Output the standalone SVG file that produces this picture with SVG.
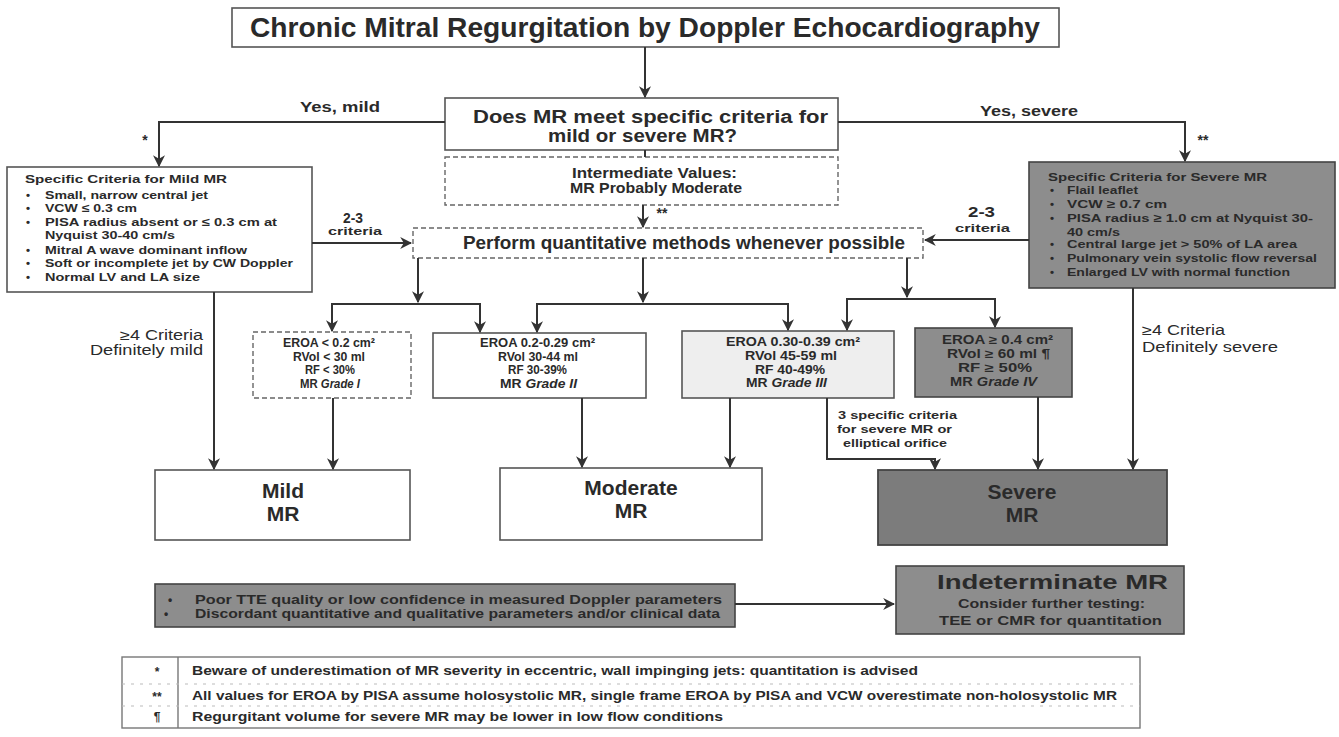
<svg xmlns="http://www.w3.org/2000/svg" width="1339" height="737" viewBox="0 0 1339 737">
  <style>
    text { font-family: "Liberation Sans", Arial, sans-serif; font-weight: bold; fill: #2a2a2a; }
    .box { fill: #ffffff; stroke: #555; stroke-width: 1.6; }
    .dash { fill: #ffffff; stroke: #666; stroke-width: 1.4; stroke-dasharray: 5 3; }
    .grey { fill: #8d8d8d; stroke: #444; stroke-width: 1.6; }
    .dark { fill: #7c7c7c; stroke: #444; stroke-width: 1.8; }
    .conn { fill: none; stroke: #333; stroke-width: 2; }
    .title { font-size: 28px; }
    .q { font-size: 18px; }
    .lbl { font-size: 14px; }
    .reg { font-size: 14px; font-weight: normal; }
    .crit { font-size: 11.5px; }
    .grade { font-size: 12px; }
    .big { font-size: 21px; }
    .note { font-size: 12px; }
    .it { font-style: italic; }
  </style>
  <defs>
    <marker id="arr" viewBox="0 0 10 10" refX="9" refY="5" markerWidth="6" markerHeight="6" orient="auto" markerUnits="strokeWidth">
      <path d="M0,0 L10,5 L0,10 L3,5 Z" fill="#333"/>
    </marker>
  </defs>

  <!-- title -->
  <g id="title">
    <rect class="box" x="232" y="8" width="827" height="39"/>
    <text class="title" x="250" y="37" textLength="790" lengthAdjust="spacingAndGlyphs">Chronic Mitral Regurgitation by Doppler Echocardiography</text>
  </g>

  <!-- question -->
  <g id="question">
    <rect class="box" x="445" y="98" width="393" height="52"/>
    <text class="q" x="473" y="123" textLength="355" lengthAdjust="spacingAndGlyphs">Does MR  meet specific criteria for</text>
    <text class="q" x="548" y="142" textLength="189" lengthAdjust="spacingAndGlyphs">mild or severe MR?</text>
  </g>

  <!-- intermediate -->
  <g id="intermediate">
    <rect class="dash" x="445" y="157" width="393" height="48"/>
    <text class="lbl" x="572" y="178" textLength="165" lengthAdjust="spacingAndGlyphs">Intermediate Values:</text>
    <text class="lbl" x="570" y="193" textLength="172" lengthAdjust="spacingAndGlyphs">MR Probably Moderate</text>
  </g>

  <!-- perform quantitative -->
  <g id="perform">
    <rect class="dash" x="413" y="228" width="510" height="30"/>
    <text class="q" x="463" y="249" textLength="442" lengthAdjust="spacingAndGlyphs">Perform quantitative methods  whenever possible</text>
  </g>

  <!-- mild criteria -->
  <g id="mild-criteria">
    <rect class="box" x="7" y="167" width="305" height="125"/>
    <text class="crit" x="25" y="183" textLength="202" lengthAdjust="spacingAndGlyphs">Specific Criteria for Mild MR</text>
    <text class="crit" x="26" y="199">•</text><text class="crit" x="45" y="199" textLength="163" lengthAdjust="spacingAndGlyphs">Small, narrow central jet</text>
    <text class="crit" x="26" y="212">•</text><text class="crit" x="45" y="212" textLength="92" lengthAdjust="spacingAndGlyphs">VCW ≤ 0.3 cm</text>
    <text class="crit" x="26" y="226">•</text><text class="crit" x="45" y="226" textLength="232" lengthAdjust="spacingAndGlyphs">PISA radius absent or  ≤ 0.3 cm at</text>
    <text class="crit" x="45" y="239" textLength="130" lengthAdjust="spacingAndGlyphs">Nyquist 30-40 cm/s</text>
    <text class="crit" x="26" y="254">•</text><text class="crit" x="45" y="254" textLength="202" lengthAdjust="spacingAndGlyphs">Mitral A wave dominant inflow</text>
    <text class="crit" x="26" y="267">•</text><text class="crit" x="45" y="267" textLength="248" lengthAdjust="spacingAndGlyphs">Soft or incomplete jet by CW Doppler</text>
    <text class="crit" x="26" y="281">•</text><text class="crit" x="45" y="281" textLength="155" lengthAdjust="spacingAndGlyphs">Normal LV and LA size</text>
  </g>

  <!-- severe criteria -->
  <g id="severe-criteria">
    <rect class="grey" x="1029" y="162" width="306" height="126"/>
    <text class="crit" x="1048" y="181" textLength="219" lengthAdjust="spacingAndGlyphs">Specific Criteria for Severe MR</text>
    <text class="crit" x="1050" y="194">•</text><text class="crit" x="1067" y="194" textLength="71" lengthAdjust="spacingAndGlyphs">Flail leaflet</text>
    <text class="crit" x="1050" y="208">•</text><text class="crit" x="1067" y="208" textLength="100" lengthAdjust="spacingAndGlyphs">VCW  ≥ 0.7 cm</text>
    <text class="crit" x="1050" y="222">•</text><text class="crit" x="1067" y="222" textLength="246" lengthAdjust="spacingAndGlyphs">PISA radius ≥ 1.0 cm at Nyquist 30-</text>
    <text class="crit" x="1067" y="236" textLength="53" lengthAdjust="spacingAndGlyphs">40 cm/s</text>
    <text class="crit" x="1050" y="248">•</text><text class="crit" x="1067" y="248" textLength="230" lengthAdjust="spacingAndGlyphs">Central large jet &gt; 50% of LA area</text>
    <text class="crit" x="1050" y="262">•</text><text class="crit" x="1067" y="262" textLength="250" lengthAdjust="spacingAndGlyphs">Pulmonary vein systolic flow reversal</text>
    <text class="crit" x="1050" y="276">•</text><text class="crit" x="1067" y="276" textLength="223" lengthAdjust="spacingAndGlyphs">Enlarged LV with normal function</text>
  </g>

  <!-- grade boxes -->
  <g id="grade-1">
    <rect class="dash" x="253" y="332" width="158" height="66"/>
    <text class="grade" x="283" y="347" textLength="92" lengthAdjust="spacingAndGlyphs">EROA &lt; 0.2 cm²</text>
    <text class="grade" x="293" y="361" textLength="72" lengthAdjust="spacingAndGlyphs">RVol &lt; 30 ml</text>
    <text class="grade" x="305" y="374" textLength="50" lengthAdjust="spacingAndGlyphs">RF &lt; 30%</text>
    <text class="grade" x="300" y="388" textLength="60" lengthAdjust="spacingAndGlyphs">MR <tspan class="it">Grade I</tspan></text>
  </g>
  <g id="grade-2">
    <rect class="box" x="433" y="333" width="213" height="65"/>
    <text class="grade" x="480" y="347" textLength="115" lengthAdjust="spacingAndGlyphs">EROA 0.2-0.29 cm²</text>
    <text class="grade" x="498" y="361" textLength="80" lengthAdjust="spacingAndGlyphs">RVol 30-44 ml</text>
    <text class="grade" x="508" y="374" textLength="59" lengthAdjust="spacingAndGlyphs">RF 30-39%</text>
    <text class="grade" x="500" y="388" textLength="77" lengthAdjust="spacingAndGlyphs">MR <tspan class="it">Grade II</tspan></text>
  </g>
  <g id="grade-3">
    <rect class="box" x="682" y="331" width="212" height="67" style="fill:#eeeeee"/>
    <text class="grade" x="726" y="346" textLength="134" lengthAdjust="spacingAndGlyphs">EROA 0.30-0.39 cm²</text>
    <text class="grade" x="745" y="360" textLength="92" lengthAdjust="spacingAndGlyphs">RVol 45-59 ml</text>
    <text class="grade" x="755" y="374" textLength="70" lengthAdjust="spacingAndGlyphs">RF 40-49%</text>
    <text class="grade" x="746" y="387" textLength="81" lengthAdjust="spacingAndGlyphs">MR <tspan class="it">Grade III</tspan></text>
  </g>
  <g id="grade-4">
    <rect class="grey" x="915" y="328" width="157" height="69"/>
    <text class="grade" x="942" y="344" textLength="111" lengthAdjust="spacingAndGlyphs">EROA ≥ 0.4 cm²</text>
    <text class="grade" x="947" y="358" textLength="103" lengthAdjust="spacingAndGlyphs">RVol ≥ 60 ml ¶</text>
    <text class="grade" x="958" y="372" textLength="74" lengthAdjust="spacingAndGlyphs">RF ≥ 50%</text>
    <text class="grade" x="950" y="386" textLength="87" lengthAdjust="spacingAndGlyphs">MR <tspan class="it">Grade IV</tspan></text>
  </g>

  <!-- outcome boxes -->
  <g id="mild">
    <rect class="box" x="155" y="470" width="255" height="70"/>
    <text class="big" x="283" y="498" text-anchor="middle">Mild</text>
    <text class="big" x="283" y="521" text-anchor="middle">MR</text>
  </g>
  <g id="moderate">
    <rect class="box" x="500" y="468" width="262" height="72"/>
    <text class="big" x="631" y="495" text-anchor="middle">Moderate</text>
    <text class="big" x="631" y="518" text-anchor="middle">MR</text>
  </g>
  <g id="severe">
    <rect class="dark" x="878" y="470" width="289" height="75"/>
    <text class="big" x="1022" y="499" text-anchor="middle">Severe</text>
    <text class="big" x="1022" y="522" text-anchor="middle">MR</text>
  </g>

  <!-- limitations -->
  <g id="limitations">
    <rect class="grey" x="155" y="584" width="580" height="43"/>
    <text class="note" x="168" y="604">•</text>
    <text class="note" x="195" y="604" textLength="527" lengthAdjust="spacingAndGlyphs">Poor TTE quality or low confidence in measured Doppler parameters</text>
    <text class="note" x="164" y="618">•</text>
    <text class="note" x="195" y="618" textLength="525" lengthAdjust="spacingAndGlyphs">Discordant quantitative and qualitative parameters and/or clinical data</text>
  </g>
  <g id="indeterminate">
    <rect class="grey" x="896" y="566" width="288" height="68"/>
    <text x="937" y="589" style="font-size:21px" textLength="231" lengthAdjust="spacingAndGlyphs">Indeterminate MR</text>
    <text x="958" y="608" style="font-size:12.5px" textLength="187" lengthAdjust="spacingAndGlyphs">Consider further testing:</text>
    <text x="939" y="625" style="font-size:13.5px" textLength="223" lengthAdjust="spacingAndGlyphs">TEE or CMR for quantitation</text>
  </g>

  <!-- footnotes -->
  <g id="footnotes">
    <rect x="122" y="657" width="1018" height="71" fill="#fff" stroke="#777" stroke-width="1.4"/>
    <line x1="178" y1="657" x2="178" y2="728" stroke="#777" stroke-width="1.4"/>
    <line x1="122" y1="684" x2="1140" y2="684" stroke="#bbb" stroke-width="1" stroke-dasharray="3 6"/>
    <line x1="122" y1="706" x2="1140" y2="706" stroke="#bbb" stroke-width="1" stroke-dasharray="3 6"/>
    <text class="note" x="157" y="676" text-anchor="middle">*</text>
    <text class="note" x="192" y="675" textLength="726" lengthAdjust="spacingAndGlyphs">Beware of underestimation of MR severity in eccentric, wall impinging jets: quantitation is advised</text>
    <text class="note" x="157" y="701" text-anchor="middle">**</text>
    <text class="note" x="192" y="700" textLength="925" lengthAdjust="spacingAndGlyphs">All values for EROA by PISA assume holosystolic MR, single frame EROA by PISA and VCW overestimate non-holosystolic MR</text>
    <text class="note" x="157" y="721" text-anchor="middle">¶</text>
    <text class="note" x="192" y="721" textLength="531" lengthAdjust="spacingAndGlyphs">Regurgitant volume for severe MR may be lower in low flow conditions</text>
  </g>

  <!-- connector labels -->
  <g id="labels">
    <text class="lbl" x="300" y="112" textLength="80" lengthAdjust="spacingAndGlyphs">Yes, mild</text>
    <text class="lbl" x="980" y="116" textLength="98" lengthAdjust="spacingAndGlyphs">Yes, severe</text>
    <text class="lbl" x="145" y="145" text-anchor="middle">*</text>
    <text class="lbl" x="1203" y="145" text-anchor="middle">**</text>
    <text class="lbl" x="662" y="218" text-anchor="middle">**</text>
    <text class="lbl" x="343" y="223" textLength="20" lengthAdjust="spacingAndGlyphs">2-3</text>
    <text class="crit" x="328" y="235" textLength="54" lengthAdjust="spacingAndGlyphs">criteria</text>
    <text class="lbl" x="968" y="217" textLength="27" lengthAdjust="spacingAndGlyphs">2-3</text>
    <text class="crit" x="955" y="232" textLength="55" lengthAdjust="spacingAndGlyphs">criteria</text>
    <text class="reg" x="120" y="340" textLength="83" lengthAdjust="spacingAndGlyphs">≥4 Criteria</text>
    <text class="reg" x="90" y="355" textLength="113" lengthAdjust="spacingAndGlyphs">Definitely mild</text>
    <text class="reg" x="1142" y="335" textLength="83" lengthAdjust="spacingAndGlyphs">≥4 Criteria</text>
    <text class="reg" x="1142" y="352" textLength="136" lengthAdjust="spacingAndGlyphs">Definitely severe</text>
    <text class="crit" x="838" y="419" textLength="119" lengthAdjust="spacingAndGlyphs">3 specific criteria</text>
    <text class="crit" x="837" y="433" textLength="115" lengthAdjust="spacingAndGlyphs">for severe MR or</text>
    <text class="crit" x="843" y="447" textLength="104" lengthAdjust="spacingAndGlyphs">elliptical orifice</text>
  </g>

  <!-- connectors -->
  <g id="connectors" class="conn">
    <line x1="645" y1="47" x2="645" y2="97" marker-end="url(#arr)"/>
    <polyline points="445,122 159,122 159,166" marker-end="url(#arr)"/>
    <polyline points="838,122 1185,122 1185,161" marker-end="url(#arr)"/>
    <line x1="645" y1="150" x2="645" y2="157"/>
    <line x1="643" y1="205" x2="643" y2="227" marker-end="url(#arr)"/>
    <line x1="312" y1="243" x2="411" y2="243" marker-end="url(#arr)"/>
    <line x1="1029" y1="240" x2="925" y2="240" marker-end="url(#arr)"/>

    <line x1="418" y1="258" x2="418" y2="302" marker-end="url(#arr)"/>
    <line x1="643" y1="258" x2="643" y2="302" marker-end="url(#arr)"/>
    <line x1="907" y1="258" x2="907" y2="297" marker-end="url(#arr)"/>

    <polyline points="332,331 332,304 480,304 480,332" marker-end="url(#arr)"/>
    <line x1="332" y1="320" x2="332" y2="331" marker-end="url(#arr)"/>
    <polyline points="537,332 537,304 788,304 788,330" marker-end="url(#arr)"/>
    <line x1="537" y1="320" x2="537" y2="332" marker-end="url(#arr)"/>
    <polyline points="847,330 847,299 995,299 995,327" marker-end="url(#arr)"/>
    <line x1="847" y1="318" x2="847" y2="330" marker-end="url(#arr)"/>

    <line x1="214" y1="292" x2="214" y2="469" marker-end="url(#arr)"/>
    <line x1="333" y1="398" x2="333" y2="469" marker-end="url(#arr)"/>
    <line x1="582" y1="398" x2="582" y2="467" marker-end="url(#arr)"/>
    <line x1="730" y1="398" x2="730" y2="467" marker-end="url(#arr)"/>
    <polyline points="827,398 827,459 935,459 935,469" marker-end="url(#arr)"/>
    <line x1="1038" y1="397" x2="1038" y2="469" marker-end="url(#arr)"/>
    <line x1="1133" y1="288" x2="1133" y2="469" marker-end="url(#arr)"/>
    <line x1="735" y1="604" x2="894" y2="604" marker-end="url(#arr)"/>
  </g>
</svg>
